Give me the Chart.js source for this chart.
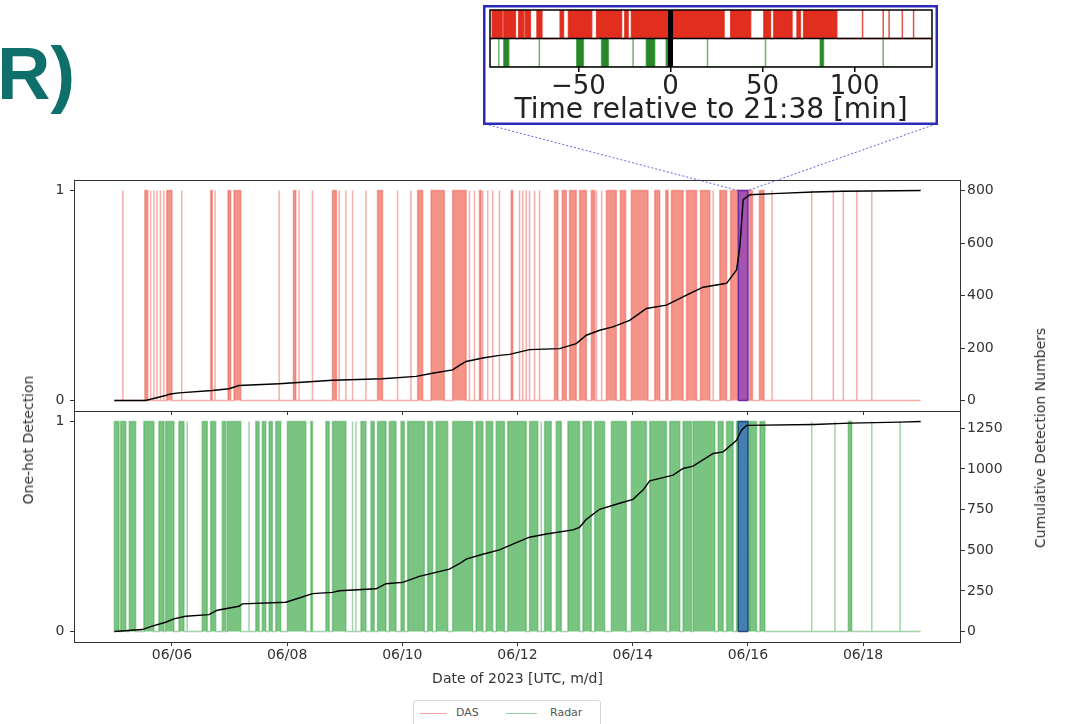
<!DOCTYPE html>
<html><head><meta charset="utf-8">
<script src="https://cdn.jsdelivr.net/npm/chart.js"></script>
<style>
html,body{margin:0;padding:0;background:#fff;width:1065px;height:724px;overflow:hidden;font-family:"DejaVu Sans",sans-serif;}
canvas{position:absolute;}
#top{left:0;top:0;}
#bot{left:0;top:397px;}
#inset{left:483px;top:5px;}
.lbl{position:absolute;white-space:nowrap;color:#333;font-size:14px;line-height:16px;transform:translate(-50%,-50%) rotate(-90deg);}
#rtext{position:absolute;left:-3px;top:37px;font-family:"Liberation Sans",Arial,sans-serif;font-weight:bold;font-size:74px;line-height:74px;color:#0f6f6b;}
#legend{position:absolute;left:413px;top:700px;width:186px;height:34px;border:1px solid #d6d6d6;border-radius:3px;font-size:11px;color:#555;}
#legend .ln{position:absolute;top:12px;height:0;border-top:1.5px solid;}
#legend .tx{position:absolute;top:5px;}
</style></head>
<body>
<div id="rtext">R)</div>
<canvas id="top" width="1065" height="425"></canvas>
<canvas id="bot" width="1065" height="292"></canvas>
<canvas id="inset" width="455" height="120"></canvas>
<div class="lbl" style="left:28px;top:440px;">One-hot Detection</div>
<div class="lbl" style="left:1040px;top:438px;">Cumulative Detection Numbers</div>
<div id="legend">
  <span class="ln" style="left:6px;width:27px;border-color:rgba(238,110,110,0.65);"></span><span class="tx" style="left:42px;">DAS</span>
  <span class="ln" style="left:92px;width:31px;border-color:rgba(90,175,100,0.6);"></span><span class="tx" style="left:136px;">Radar</span>
</div>
<script>
// ---------- data (days of June 2023, UTC) ----------
const xTickDays   = [6, 8, 10, 12, 14, 16, 18];
const xTickLabels = ['06/06','06/08','06/10','06/12','06/14','06/16','06/18'];
const xRange      = [4.3, 19.7];
const dataSpan    = [5.0, 19.0];
const oneHotTicks = [0, 1];
const dasCumTicks   = [0, 200, 400, 600, 800];
const radarCumTicks = [0, 250, 500, 750, 1000, 1250];

// DAS detections: [start, end] in days (single lines have start == end)
const dasEvents = [
 [5.148,5.148],[5.53,5.58],[5.63,5.63],[5.687,5.687],[5.74,5.74],[5.80,5.80],[5.86,5.86],[5.91,6.0],
 [6.17,6.17],[6.673,6.70],[6.748,6.748],[6.974,7.02],[7.078,7.195],[7.861,7.861],[8.11,8.15],[8.209,8.209],
 [8.44,8.44],[8.788,8.857],[8.904,8.904],[9.02,9.02],[9.136,9.136],[9.368,9.368],[9.57,9.657],[9.918,9.918],
 [10.15,10.15],[10.266,10.353],[10.499,10.73],[10.875,11.108],[11.165,11.165],[11.252,11.252],[11.339,11.369],
 [11.397,11.397],[11.483,11.483],[11.57,11.57],[11.687,11.687],[11.89,11.918],[12.035,12.035],[12.092,12.092],
 [12.151,12.151],[12.209,12.209],[12.296,12.296],[12.383,12.383],[12.643,12.701],[12.777,12.847],[12.904,13.02],
 [13.078,13.195],[13.282,13.339],[13.37,13.37],[13.46,13.46],[13.543,13.716],[13.786,13.878],[13.977,14.266],
 [14.383,14.47],[14.574,14.614],[14.673,14.875],[14.934,15.108],[15.177,15.339],[15.397,15.397],[15.513,15.63],
 [15.70,16.0],[16.03,16.08],[16.2,16.28],[16.42,16.42],[17.108,17.108],[17.483,17.483],[17.657,17.657],[17.89,17.89],[18.151,18.151]
];
// Radar detections
const radarEvents = [
 [5.0,5.08],[5.11,5.20],[5.26,5.37],[5.513,5.687],[5.774,5.861],[5.89,6.035],[6.122,6.209],[6.266,6.266],
 [6.527,6.614],[6.673,6.76],[6.875,6.934],[6.962,7.195],[7.339,7.339],[7.456,7.513],[7.57,7.63],[7.687,7.744],
 [7.803,7.89],[8.005,8.325],[8.412,8.44],[8.673,8.73],[8.788,9.021],[9.136,9.136],[9.195,9.195],[9.282,9.368],
 [9.456,9.513],[9.57,9.717],[9.774,9.89],[9.977,10.035],[10.092,10.383],[10.44,10.527],[10.586,10.788],
 [10.875,11.222],[11.28,11.40],[11.456,11.57],[11.63,11.774],[11.831,12.151],[12.209,12.353],[12.412,12.412],
 [12.47,12.586],[12.673,12.76],[12.875,13.078],[13.136,13.282],[13.339,13.513],[13.63,13.89],[13.977,14.238],
 [14.296,14.586],[14.643,14.817],[14.875,15.021],[15.049,15.426],[15.484,15.571],[15.63,15.744],[15.803,16.023],
 [16.035,16.151],[16.209,16.296],[17.108,17.108],[17.513,17.513],[17.744,17.803],[18.151,18.151],[18.643,18.643]
];

// cumulative detection numbers
const dasCumDays   = [5.0,5.543,5.89,5.977,6.122,6.70,6.991,7.165,7.861,8.788,9.657,10.238,10.522,10.875,10.991,11.108,11.397,11.687,11.861,12.209,12.73,13.02,13.195,13.426,13.657,13.948,14.238,14.586,14.934,15.223,15.63,15.803,15.861,15.918,16.035,16.44,17.136,17.657,19.0];
const dasCumCounts = [0,0,19,25,29,38,45,57,64,77,83,92,104,117,134,149,162,172,176,194,198,217,249,268,281,306,351,364,402,432,447,498,587,766,785,789,795,798,801];
const radarCumDays   = [5.0,5.483,5.657,5.89,6.035,6.238,6.643,6.788,7.165,7.223,7.977,8.209,8.44,8.788,8.904,9.543,9.717,10.005,10.296,10.817,10.991,11.108,11.397,11.687,11.918,12.209,12.499,12.962,13.078,13.195,13.426,13.774,14.005,14.179,14.296,14.701,14.875,15.049,15.397,15.571,15.803,15.89,15.977,17.136,17.774,18.643,19.0];
const radarCumCounts = [0,12,33,57,78,94,104,131,155,170,180,206,233,241,251,263,294,302,339,384,417,445,475,502,537,580,600,625,641,690,752,789,813,870,927,962,1003,1017,1095,1105,1176,1238,1268,1274,1282,1288,1292];

// zoom window: 06/15 20:00 - 06/16 00:00, minutes relative to 21:38
const insetWindowDays = [15 + 20/24, 16.0];
const insetWindowMin  = [-98, 142];
const insetRefMin     = 0;
const insetTicks      = [-50, 0, 50, 100];
const insetDasMin = [
 [-96.8,-91.4],[-90.5,-84.2],[-82.4,-79.7],[-78.8,-76.1],[-72.5,-69.8],[-59.9,-58.1],[-55.4,-42.8],[-40.1,-26.6],
 [-24.8,-23.0],[-21.2,-1.4],[1.3,29.1],[32.7,43.5],[50.7,54.3],[56.1,66.0],[68.7,70.5],[72.3,90.3],
 [104.3,104.3],[115.5,115.5],[118.7,118.7],[125.9,125.9],[132.0,132.0]
];
const insetRadarMin = [
 [-93.2,-93.2],[-90.5,-87.8],[-71.2,-71.2],[-50.9,-47.3],[-37.4,-33.8],[-20.3,-20.3],[-13.1,-8.6],[-2.3,-0.5],
 [20.1,20.1],[51.6,51.6],[81.3,83.1],[115.5,115.5]
];

// ---------- helpers ----------
const FONT = '"DejaVu Sans", sans-serif';
const TXT = '#333';
const SPINE = '#333';

function stepSeries(intervals, t0, t1, lo, hi) {
  const pts = [{x: t0, y: lo}];
  for (const [s, e] of intervals) {
    pts.push({x: s, y: lo}, {x: s, y: hi}, {x: e, y: hi}, {x: e, y: lo});
  }
  pts.push({x: t1, y: lo});
  return pts;
}
function boxSeries(w) {
  return [{x:w[0],y:0},{x:w[0],y:1},{x:w[1],y:1},{x:w[1],y:0}];
}

const framePlugin = {
  id: 'frame',
  afterDraw(chart) {
    const {ctx, chartArea: a} = chart;
    ctx.save();
    ctx.strokeStyle = SPINE; ctx.lineWidth = 1;
    ctx.strokeRect(Math.round(a.left) + 0.5, Math.round(a.top) + 0.5,
                   Math.round(a.right - a.left) - 1, Math.round(a.bottom - a.top));
    ctx.restore();
  }
};

// zoom-window edge at y = 0 and dotted connectors to the inset
const windowEdgePlugin = {
  id: 'windowEdge',
  afterDatasetsDraw(chart, args, opts) {
    const ctx = chart.ctx;
    const x0 = chart.scales.x.getPixelForValue(insetWindowDays[0]);
    const x1 = chart.scales.x.getPixelForValue(insetWindowDays[1]);
    const y0 = chart.scales.yL.getPixelForValue(0);
    ctx.save();
    ctx.strokeStyle = opts.color; ctx.lineWidth = 1.5;
    ctx.beginPath(); ctx.moveTo(x0, y0); ctx.lineTo(x1, y0); ctx.stroke();
    ctx.restore();
  }
};
const connectorPlugin = {
  id: 'connector',
  afterDraw(chart) {
    const ins = document.getElementById('inset');
    const L = ins.offsetLeft + 2, R = ins.offsetLeft + ins.width - 2, B = ins.offsetTop + ins.height - 1;
    const x0 = chart.scales.x.getPixelForValue(insetWindowDays[0]);
    const x1 = chart.scales.x.getPixelForValue(insetWindowDays[1]);
    const yT = chart.scales.yL.getPixelForValue(1);
    const ctx = chart.ctx;
    ctx.save();
    ctx.setLineDash([2, 2]);
    ctx.strokeStyle = 'rgba(70,70,225,0.85)';
    ctx.lineWidth = 1;
    ctx.beginPath();
    ctx.moveTo(L, B); ctx.lineTo(x0, yT);
    ctx.moveTo(R, B); ctx.lineTo(x1, yT);
    ctx.stroke();
    ctx.restore();
  }
};

function mainChart(id, cfg) {
  return new Chart(document.getElementById(id), {
    type: 'line',
    data: { datasets: [
      { label: cfg.name, data: stepSeries(cfg.events, dataSpan[0], dataSpan[1], 0, 1), yAxisID: 'yL',
        borderColor: cfg.stroke, backgroundColor: cfg.fill, borderWidth: 1.5, fill: 'origin', pointRadius: 0, tension: 0, order: 3 },
      { label: 'window', data: boxSeries(insetWindowDays), yAxisID: 'yL',
        borderColor: cfg.boxEdge, backgroundColor: cfg.boxFill, borderWidth: 1.5, fill: 'origin', pointRadius: 0, tension: 0, order: 2 },
      { label: 'cumulative', data: cfg.cumDays.map((d, i) => ({x: d, y: cfg.cumCounts[i]})), yAxisID: 'yR',
        borderColor: '#000', borderWidth: 1.4, pointRadius: 0, fill: false, tension: 0, order: 1 }
    ]},
    options: {
      responsive: false, animation: false, events: [],
      layout: { padding: { top: cfg.padTop, left: 0, right: 0, bottom: 0 } },
      plugins: { legend: { display: false }, tooltip: { enabled: false }, windowEdge: { color: cfg.boxEdge } },
      scales: {
        x: {
          type: 'linear', min: xRange[0], max: xRange[1], border: { display: false },
          grid: { display: true, drawOnChartArea: false, drawTicks: true, tickLength: 4, color: SPINE },
          ticks: { display: cfg.showX, autoSkip: false, maxRotation: 0, padding: 1,
                   font: { family: FONT, size: 14 }, color: TXT,
                   callback: (v) => { const i = xTickDays.indexOf(v); return i >= 0 ? xTickLabels[i] : ''; } },
          title: { display: cfg.showX, text: 'Date of 2023 [UTC, m/d]', font: { family: FONT, size: 14 }, color: TXT,
                   padding: { top: 0, bottom: 1 } },
          afterBuildTicks: (s) => { s.ticks = xTickDays.map(v => ({value: v})); },
          afterFit: (s) => { s.height = cfg.xH; }
        },
        yL: {
          type: 'linear', position: 'left', min: -0.05, max: 1.05, border: { display: false },
          grid: { drawOnChartArea: false, tickLength: 4, color: SPINE },
          ticks: { autoSkip: false, padding: 5.6, font: { family: FONT, size: 14 }, color: TXT,
                   callback: (v) => String(v) },
          afterBuildTicks: (s) => { s.ticks = oneHotTicks.map(v => ({value: v})); },
          afterFit: (s) => { s.width = 74; }
        },
        yR: {
          type: 'linear', position: 'right', min: cfg.cumMin, max: cfg.cumMax, border: { display: false },
          grid: { drawOnChartArea: false, tickLength: 4, color: SPINE },
          ticks: { autoSkip: false, padding: 2, font: { family: FONT, size: 14 }, color: TXT,
                   callback: (v) => String(v) },
          afterBuildTicks: (s) => { s.ticks = cfg.cumTicks.map(v => ({value: v})); },
          afterFit: (s) => { s.width = 104; }
        }
      }
    },
    plugins: [windowEdgePlugin, framePlugin].concat(cfg.extra || [])
  });
}

mainChart('top', {
  name: 'DAS', events: dasEvents, cumDays: dasCumDays, cumCounts: dasCumCounts,
  cumMin: -40, cumMax: 841, cumTicks: dasCumTicks,
  stroke: 'rgba(238,95,85,0.5)', fill: 'rgba(240,105,90,0.72)',
  boxEdge: 'rgba(100,40,170,0.95)', boxFill: 'rgba(110,40,200,0.6)',
  padTop: 180, xH: 4, showX: false, extra: [connectorPlugin]
});
mainChart('bot', {
  name: 'Radar', events: radarEvents, cumDays: radarCumDays, cumCounts: radarCumCounts,
  cumMin: -64.6, cumMax: 1356.6, cumTicks: radarCumTicks,
  stroke: 'rgba(70,170,80,0.5)', fill: 'rgba(78,176,88,0.75)',
  boxEdge: 'rgba(35,70,130,0.95)', boxFill: 'rgba(40,90,200,0.65)',
  padTop: 0, xH: 47, showX: true
});

const insetFrame = {
  id: 'insetFrame',
  afterDraw(chart) {
    const {ctx, chartArea: a, scales} = chart;
    ctx.save();
    ctx.strokeStyle = '#000'; ctx.lineWidth = 1.5;
    ctx.strokeRect(a.left, a.top, a.right - a.left, a.bottom - a.top);
    const ym = scales.y.getPixelForValue(1);
    ctx.beginPath(); ctx.moveTo(a.left, ym); ctx.lineTo(a.right, ym); ctx.stroke();
    ctx.strokeStyle = '#2b2bb8'; ctx.lineWidth = 2.5;
    ctx.strokeRect(1.25, 1.25, chart.width - 2.5, chart.height - 2.5);
    ctx.restore();
  }
};

new Chart(document.getElementById('inset'), {
  type: 'line',
  data: { datasets: [
    { data: stepSeries(insetDasMin, insetWindowMin[0], insetWindowMin[1], 1, 2),
      borderColor: 'rgba(222,40,25,0.8)', backgroundColor: 'rgb(226,46,30)', borderWidth: 1.5,
      fill: { value: 1 }, pointRadius: 0, tension: 0, order: 3 },
    { data: stepSeries(insetRadarMin, insetWindowMin[0], insetWindowMin[1], 0, 1),
      borderColor: 'rgba(30,140,30,0.65)', backgroundColor: 'rgba(20,120,20,0.9)', borderWidth: 1.5,
      fill: { value: 0 }, pointRadius: 0, tension: 0, order: 2 },
    { data: [{x: insetRefMin, y: 0}, {x: insetRefMin, y: 2}], borderColor: '#000', borderWidth: 5,
      pointRadius: 0, fill: false, order: 1 }
  ]},
  options: {
    responsive: false, animation: false, events: [],
    layout: { padding: { left: 7, right: 6, top: 5, bottom: 0 } },
    plugins: { legend: { display: false }, tooltip: { enabled: false } },
    scales: {
      x: {
        type: 'linear', min: insetWindowMin[0], max: insetWindowMin[1], border: { display: false },
        grid: { drawOnChartArea: false, tickLength: 5, color: '#000', lineWidth: 1.5 },
        ticks: { autoSkip: false, maxRotation: 0, padding: 0, font: { family: FONT, size: 26 }, color: '#222',
                 callback: (v) => v < 0 ? '\u2212' + Math.abs(v) : String(v) },
        title: { display: true, text: 'Time relative to 21:38 [min]', font: { family: FONT, size: 28, lineHeight: 1 },
                 color: '#222', padding: { top: 0, bottom: 0 } },
        afterBuildTicks: (s) => { s.ticks = insetTicks.map(v => ({value: v})); },
        afterFit: (s) => { s.height = 58; }
      },
      y: { type: 'linear', display: false, min: 0, max: 2 }
    }
  },
  plugins: [insetFrame]
});
</script>
</body></html>
